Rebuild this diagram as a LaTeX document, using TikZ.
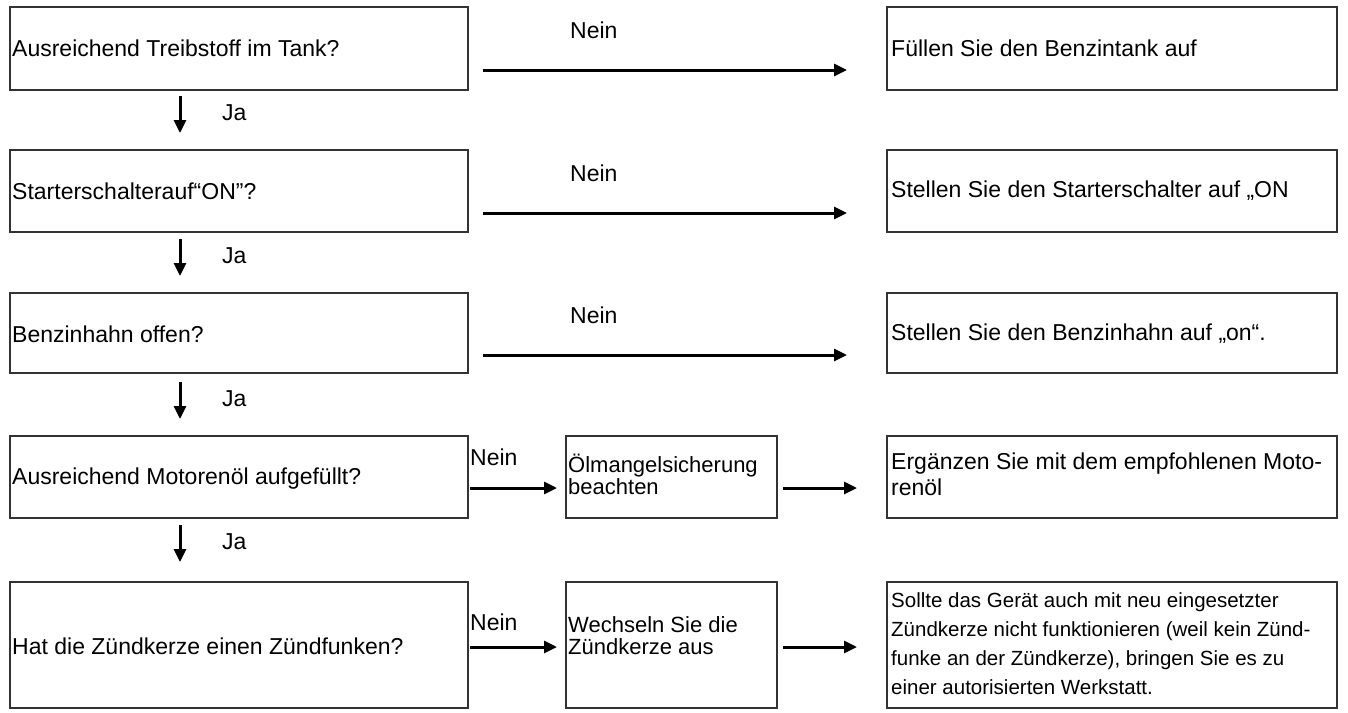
\documentclass[tikz,border=0pt]{standalone}
\usepackage{fontspec}
\setmainfont{Liberation Sans}
\usetikzlibrary{arrows.meta}
\begin{document}
\begin{tikzpicture}[x=1pt,y=-1pt,
  bx/.style={draw=black!80,line width=1.3pt},
  lbl/.style={anchor=west,font=\fontsize{23}{26}\selectfont,inner sep=0},
  arr/.style={-{Triangle[length=13pt,width=12pt]},line width=3pt}]
\useasboundingbox (0,0) rectangle (1348,712);
\foreach \n/\a/\b in {1/7/90,2/150/232,3/293/373,4/436/518,5/582/708}{
  \draw[bx] (10,\a) rectangle (468,\b);
  \draw[bx] (887,\a) rectangle (1337,\b);
}
\draw[bx] (566,436) rectangle (777,518);
\draw[bx] (566,582) rectangle (777,708);
\node[lbl] (t1) at (12,48) {Ausreichend Treibstoff im Tank?};
\node[lbl] (t2) at (12,191) {Starterschalterauf“ON”?};
\node[lbl] (t3) at (12,334) {Benzinhahn offen?};
\node[lbl] (t4) at (12,479) {Ausreichend Motorenöl aufgefüllt?};
\node[lbl] (t5) at (12,646) {Hat die Zündkerze einen Zündfunken?};
\node[lbl] (r1) at (891,48) {Füllen Sie den Benzintank auf};
\node[lbl] (r2) at (891,191) {Stellen Sie den Starterschalter auf „ON};
\node[lbl] (r3) at (891,334) {Stellen Sie den Benzinhahn auf „on“.};
\node[lbl,align=left] (r4) at (891,474) {Ergänzen Sie mit dem empfohlenen Moto-\\renöl};
\node[lbl,align=left,font=\fontsize{20.5}{29}\selectfont] (r5) at (891,644) {Sollte das Gerät auch mit neu eingesetzter\\Zündkerze nicht funktionieren (weil kein Zünd-\\funke an der Zündkerze), bringen Sie es zu\\einer autorisierten Werkstatt.};
\node[lbl,align=left,font=\fontsize{22}{22}\selectfont] (m4) at (568,474) {Ölmangelsicherung\\beachten};
\node[lbl,align=left,font=\fontsize{22}{22}\selectfont] (m5) at (568,636) {Wechseln Sie die\\Zündkerze aus};
\foreach \y/\n in {70/1,213/2,355/3}{
  \coordinate (s\n) at (483,\y); \coordinate (e\n) at (847,\y);
  \draw[arr] (s\n) -- (e\n);
  \node[lbl] (nein\n) at (570,\y-40) {Nein};
}
\foreach \y/\n in {488/4,647/5}{
  \coordinate (a\n) at (470,\y); \coordinate (b\n) at (557,\y);
  \coordinate (c\n) at (783,\y); \coordinate (d\n) at (857,\y);
  \draw[arr] (a\n) -- (b\n);
  \draw[arr] (c\n) -- (d\n);
}
\node[lbl] (nein4) at (470,457) {Nein};
\node[lbl] (nein5) at (470,622) {Nein};
\foreach \a/\n in {96/1,239/2,382/3,525/4}{
  \coordinate (ja\n s) at (180,\a); \coordinate (ja\n e) at (180,\a+37);
  \draw[arr] (ja\n s) -- (ja\n e);
  \node[lbl] (ja\n) at (222,\a+17) {Ja};
}
\end{tikzpicture}
\end{document}
